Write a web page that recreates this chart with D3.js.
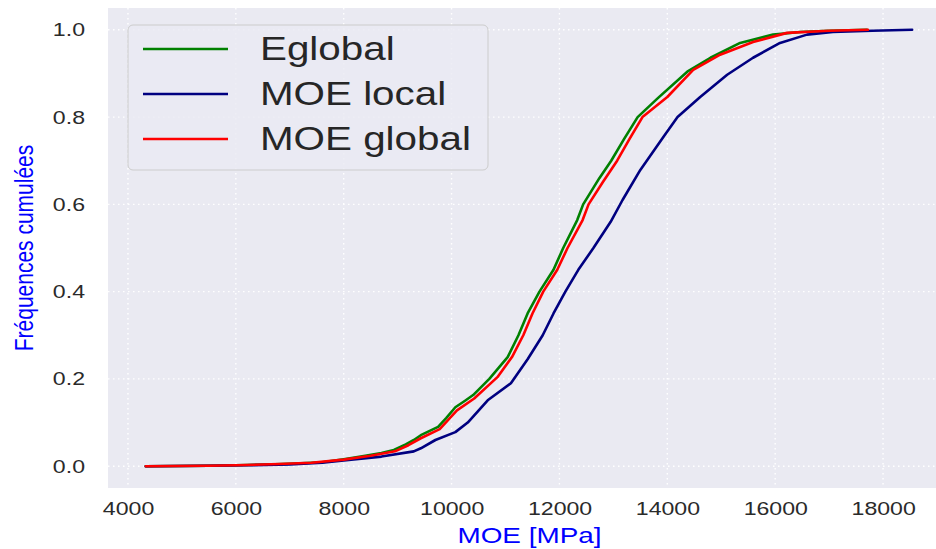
<!DOCTYPE html>
<html>
<head>
<meta charset="utf-8">
<script src="https://cdn.jsdelivr.net/npm/d3@7"></script>
<style>
  body { margin: 0; background: #ffffff; }
  svg { display: block; }
</style>
</head>
<body>
<script>
// cumulative frequency curves
var eglobalMOE  = [4330, 5500, 6000, 6600, 7100, 7600, 8000, 8400, 8700, 8930, 9150, 9300, 9430, 9750, 9900, 10070, 10250, 10400, 10700, 11040, 11240, 11410, 11630, 11890, 12070, 12330, 12440, 12740, 12960, 13200, 13450, 13830, 14370, 14800, 15350, 15960, 16460, 17000, 17700];
var eglobalFreq = [0, 0.001, 0.002, 0.004, 0.006, 0.009, 0.016, 0.024, 0.03, 0.037, 0.05, 0.06, 0.071, 0.09, 0.11, 0.135, 0.15, 0.163, 0.2, 0.25, 0.3, 0.35, 0.4, 0.45, 0.5, 0.564, 0.6, 0.66, 0.7, 0.75, 0.8, 0.844, 0.904, 0.936, 0.97, 0.989, 0.995, 0.998, 1.0];

var moeLocalMOE  = [4330, 5500, 6200, 7000, 7600, 8000, 8700, 9300, 9430, 9700, 10070, 10300, 10670, 11100, 11410, 11690, 11890, 12110, 12350, 12630, 12950, 13170, 13500, 13930, 14190, 14610, 15110, 15590, 16090, 16590, 17070, 17800, 18540];
var moeLocalFreq = [0, 0.001, 0.002, 0.004, 0.008, 0.013, 0.022, 0.034, 0.041, 0.06, 0.078, 0.1, 0.151, 0.19, 0.245, 0.3, 0.35, 0.4, 0.45, 0.5, 0.56, 0.61, 0.679, 0.755, 0.8, 0.846, 0.897, 0.936, 0.97, 0.989, 0.995, 0.998, 1.0];

var moeGlobalMOE  = [4330, 5500, 6000, 6800, 7400, 8000, 8500, 8950, 9200, 9430, 9780, 10100, 10420, 10850, 11120, 11330, 11500, 11700, 11960, 12150, 12430, 12540, 12800, 13070, 13300, 13540, 14000, 14480, 14980, 15590, 16220, 17000, 17720];
var moeGlobalFreq = [0, 0.001, 0.002, 0.005, 0.008, 0.015, 0.024, 0.034, 0.048, 0.064, 0.085, 0.128, 0.155, 0.204, 0.25, 0.3, 0.35, 0.4, 0.45, 0.5, 0.564, 0.6, 0.65, 0.7, 0.75, 0.8, 0.846, 0.908, 0.943, 0.972, 0.993, 0.998, 1.0];

var seriesNames  = ["Eglobal", "MOE local", "MOE global"];
var seriesColors = ["#008000", "#000080", "#ff0000"];
var xTicks = [4000, 6000, 8000, 10000, 12000, 14000, 16000, 18000];
var yTicks = [0.0, 0.2, 0.4, 0.6, 0.8, 1.0];

// the reference figure is stretched horizontally; draw narrow and stretch
var S = 1.25;
var W = 936, H = 549;
var font = "'Liberation Sans', Arial, sans-serif";

var svg = d3.select("body").append("svg")
  .attr("width", W)
  .attr("height", H)
  .attr("viewBox", "0 0 " + (W / S) + " " + H)
  .attr("preserveAspectRatio", "none");

var plot = { left: 108, right: 951, top: 8, bottom: 488 };

var x = d3.scaleLinear().domain([3630, 19260]).range([plot.left / S, plot.right / S]);
var y = d3.scaleLinear().domain([-0.05, 1.05]).range([plot.bottom, plot.top]);

svg.append("rect")
  .attr("x", x.range()[0])
  .attr("y", plot.top)
  .attr("width", x.range()[1] - x.range()[0])
  .attr("height", plot.bottom - plot.top)
  .attr("fill", "#eaeaf2");

// dotted white grid
var grid = svg.append("g").attr("stroke", "#ffffff").attr("stroke-width", 1.4)
  .attr("stroke-dasharray", "1.5,3.5");
grid.selectAll("line.vx").data(xTicks).enter().append("line")
  .attr("x1", function(d) { return x(d); })
  .attr("x2", function(d) { return x(d); })
  .attr("y1", plot.top).attr("y2", plot.bottom)
  .attr("vector-effect", "non-scaling-stroke");
grid.selectAll("line.hy").data(yTicks).enter().append("line")
  .attr("x1", x.range()[0]).attr("x2", x.range()[1])
  .attr("y1", function(d) { return y(d); })
  .attr("y2", function(d) { return y(d); })
  .attr("vector-effect", "non-scaling-stroke");

// axes (labels only, no spines)
var xAxis = svg.append("g")
  .attr("transform", "translate(0," + plot.bottom + ")")
  .call(d3.axisBottom(x).tickValues(xTicks).tickFormat(d3.format("d")).tickSize(0).tickPadding(14));
var yAxis = svg.append("g")
  .attr("transform", "translate(" + x.range()[0] + ",0)")
  .call(d3.axisLeft(y).tickValues(yTicks).tickFormat(d3.format(".1f")).tickSize(0).tickPadding(23 / S));
[xAxis, yAxis].forEach(function(a) {
  a.select(".domain").remove();
  a.selectAll("text")
    .attr("font-family", font)
    .attr("font-size", 18.5)
    .attr("fill", "#2a2a2a");
});

var series = [
  { name: seriesNames[0], color: seriesColors[0], xs: eglobalMOE, ys: eglobalFreq },
  { name: seriesNames[1], color: seriesColors[1], xs: moeLocalMOE, ys: moeLocalFreq },
  { name: seriesNames[2], color: seriesColors[2], xs: moeGlobalMOE, ys: moeGlobalFreq }
];

var line = d3.line()
  .x(function(d) { return x(d[0]); })
  .y(function(d) { return y(d[1]); });

svg.selectAll("path.curve")
  .data(series)
  .enter()
  .append("path")
  .attr("class", "curve")
  .attr("d", function(s) { return line(d3.zip(s.xs, s.ys)); })
  .attr("fill", "none")
  .attr("stroke", function(s) { return s.color; })
  .attr("stroke-width", 2.6)
  .attr("stroke-linejoin", "round")
  .attr("stroke-linecap", "round")
  .attr("vector-effect", "non-scaling-stroke");

// axis titles
svg.append("text")
  .attr("x", (plot.left + plot.right) / 2 / S)
  .attr("y", 543)
  .attr("text-anchor", "middle")
  .attr("font-family", font)
  .attr("font-size", 22.3)
  .attr("fill", "#0000ff")
  .text("MOE [MPa]");

svg.append("text")
  .attr("transform", "translate(" + (33 / S) + "," + ((plot.top + plot.bottom) / 2) + ") rotate(-90)")
  .attr("text-anchor", "middle")
  .attr("font-family", font)
  .attr("font-size", 21)
  .attr("fill", "#0000ff")
  .text("Fréquences cumulées");

// legend
var legend = svg.append("g");
legend.append("rect")
  .attr("x", 128 / S).attr("y", 25)
  .attr("width", (488 - 128) / S).attr("height", 145)
  .attr("rx", 5 / S).attr("ry", 5)
  .attr("fill", "#eaeaf2").attr("fill-opacity", 0.8)
  .attr("stroke", "#cccccc").attr("stroke-width", 1)
  .attr("vector-effect", "non-scaling-stroke");
var rows = legend.selectAll("g.row").data(series).enter().append("g")
  .attr("transform", function(d, i) { return "translate(0," + (49 + i * 45) + ")"; });
rows.append("line")
  .attr("x1", 143 / S).attr("x2", 228 / S)
  .attr("stroke", function(d) { return d.color; })
  .attr("stroke-width", 2.4)
  .attr("vector-effect", "non-scaling-stroke");
rows.append("text")
  .attr("x", 260 / S).attr("y", 11)
  .attr("font-family", font)
  .attr("font-size", 32.3)
  .attr("fill", "#262626")
  .text(function(d) { return d.name; });
</script>
</body>
</html>
